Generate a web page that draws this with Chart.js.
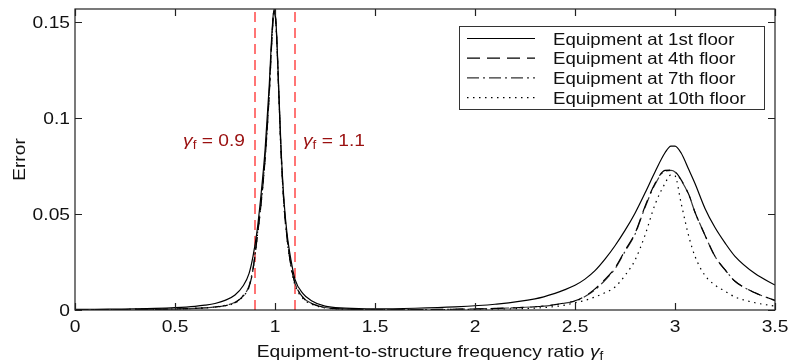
<!DOCTYPE html>
<html>
<head>
<meta charset="utf-8">
<script src="https://cdn.jsdelivr.net/npm/chart.js@4.4.1/dist/chart.umd.min.js"></script>
<style>
  html, body { margin: 0; padding: 0; background: #fff; }
  #wrap { width: 795px; height: 363px; }
</style>
</head>
<body>
<div id="wrap"><canvas id="errorChart" width="795" height="363"></canvas></div>
<script>
// frequency ratio samples (x) and error values
const gammaF = [0, 0.1, 0.2, 0.3, 0.4, 0.5, 0.6, 0.65, 0.7, 0.75, 0.8, 0.84, 0.87, 0.89, 0.91, 0.93, 0.95, 0.97, 0.985, 0.995,
  1.005, 1.02, 1.03, 1.045, 1.06, 1.08, 1.1, 1.14, 1.18, 1.25, 1.35, 1.5, 1.7, 1.9, 2.1, 2.3, 2.4, 2.45, 2.5, 2.55, 2.6, 2.65, 2.7,
  2.75, 2.8, 2.85, 2.9, 2.95, 2.98, 3.0, 3.03, 3.07, 3.1, 3.15, 3.2, 3.25, 3.3, 3.4, 3.5];

const floor1 = [0.0004, 0.0004, 0.0005, 0.0006, 0.0008, 0.0012, 0.0019, 0.0025, 0.0034, 0.005, 0.0078, 0.0125, 0.019, 0.028, 0.041, 0.06, 0.083, 0.115, 0.145, 0.157,
  0.15, 0.112, 0.085, 0.057, 0.04, 0.026, 0.016, 0.0085, 0.005, 0.002, 0.001, 0.0006, 0.0009, 0.0016, 0.003, 0.0058, 0.0087, 0.0106, 0.0129, 0.0161, 0.0205, 0.0265, 0.0335,
  0.0415, 0.0505, 0.061, 0.072, 0.082, 0.0855, 0.0855, 0.082, 0.073, 0.066, 0.053, 0.043, 0.035, 0.028, 0.019, 0.013];

const floor4 = [0.0002, 0.0002, 0.0002, 0.0003, 0.0003, 0.0005, 0.0008, 0.0011, 0.0015, 0.0022, 0.0038, 0.0072, 0.012, 0.021, 0.037, 0.055, 0.078, 0.11, 0.142, 0.156,
  0.149, 0.11, 0.083, 0.055, 0.038, 0.023, 0.014, 0.0065, 0.0035, 0.0013, 0.0005, 0.0002, 0.0002, 0.0004, 0.0008, 0.0017, 0.0028, 0.0037, 0.0048, 0.0072, 0.011, 0.016, 0.022,
  0.031, 0.04, 0.054, 0.066, 0.0728, 0.073, 0.0722, 0.068, 0.06, 0.051, 0.039, 0.028, 0.021, 0.015, 0.009, 0.005];

const floor7 = [0.0002, 0.0002, 0.0002, 0.0003, 0.0003, 0.0005, 0.0008, 0.0011, 0.0016, 0.0024, 0.004, 0.0075, 0.0125, 0.022, 0.038, 0.056, 0.079, 0.111, 0.143, 0.156,
  0.149, 0.11, 0.083, 0.055, 0.038, 0.023, 0.014, 0.0066, 0.0036, 0.0013, 0.0005, 0.0002, 0.0002, 0.0004, 0.0008, 0.0017, 0.0027, 0.0036, 0.0046, 0.007, 0.0105, 0.0155, 0.0215,
  0.0305, 0.0395, 0.0535, 0.0655, 0.0725, 0.0728, 0.072, 0.0678, 0.0598, 0.051, 0.039, 0.028, 0.021, 0.015, 0.009, 0.005];

const floor10 = [0.0002, 0.0002, 0.0002, 0.0003, 0.0003, 0.0005, 0.0008, 0.0011, 0.0015, 0.0022, 0.0037, 0.007, 0.012, 0.021, 0.037, 0.055, 0.078, 0.11, 0.142, 0.156,
  0.149, 0.11, 0.082, 0.054, 0.037, 0.022, 0.013, 0.006, 0.0032, 0.0011, 0.0004, 0.0002, 0.0002, 0.0003, 0.0005, 0.001, 0.0018, 0.0026, 0.0038, 0.005, 0.0068, 0.009, 0.012,
  0.018, 0.026, 0.039, 0.055, 0.066, 0.0705, 0.07, 0.056, 0.038, 0.028, 0.018, 0.013, 0.0098, 0.0068, 0.0038, 0.002];

const seriesNames = ['Equipment at 1st floor', 'Equipment at 4th floor', 'Equipment at 7th floor', 'Equipment at 10th floor'];
const xTicks = [0, 0.5, 1, 1.5, 2, 2.5, 3, 3.5];
const yTicks = [0, 0.05, 0.1, 0.15];
const markerLines = [0.9, 1.1];
const markerLabels = ['0.9', '1.1'];
const markerLabelY = 0.088;
const yMax = 0.157;

const FONT = '"Liberation Sans", Arial, sans-serif';
const SX = 1.13; // the original lettering is a little wider than Liberation Sans
const styles = [
  { color: '#000', dash: [] },
  { color: '#000', dash: [13, 7] },
  { color: '#333', dash: [12, 4, 2, 4] },
  { color: '#000', dash: [1.5, 4.5] }
];

function toPoints(ys) {
  return ys.map((y, i) => ({ x: gammaF[i], y: y }));
}

const datasets = [floor1, floor4, floor7, floor10].map((ys, i) => ({
  label: seriesNames[i],
  data: toPoints(ys),
  borderColor: styles[i].color,
  borderDash: styles[i].dash,
  borderWidth: 1.2,
  pointRadius: 0,
  cubicInterpolationMode: 'monotone',
  fill: false
}));

markerLines.forEach((xv) => {
  datasets.push({
    label: 'marker',
    data: [{ x: xv, y: 0 }, { x: xv, y: yMax }],
    borderColor: 'rgba(255,40,40,0.85)',
    borderDash: [10, 6],
    borderWidth: 1.5,
    pointRadius: 0
  });
});

function wideText(ctx, text, x, y, align, baseline) {
  ctx.save();
  ctx.translate(x, y);
  ctx.scale(SX, 1);
  ctx.textAlign = align;
  ctx.textBaseline = baseline || 'alphabetic';
  ctx.fillText(text, 0, 0);
  ctx.restore();
}

// text made of several pieces (italic gamma with subscript f)
function drawParts(ctx, parts, x, y, align) {
  let total = 0;
  parts.forEach(p => { ctx.font = p.font; total += ctx.measureText(p.t).width * SX; });
  let cx = align === 'center' ? x - total / 2 : (align === 'right' ? x - total : x);
  parts.forEach(p => {
    ctx.font = p.font;
    wideText(ctx, p.t, cx, y + (p.dy || 0), 'left');
    cx += ctx.measureText(p.t).width * SX;
  });
}

function gammaParts(rest, size) {
  return [
    { t: 'γ', font: 'italic ' + size + 'px ' + FONT },
    { t: 'f', font: Math.round(size * 0.68) + 'px ' + FONT, dy: 3 },
    { t: rest, font: size + 'px ' + FONT }
  ];
}

const decorations = {
  id: 'decorations',
  afterDraw(chart) {
    const ctx = chart.ctx;
    const a = chart.chartArea;
    const xs = chart.scales.x, ys = chart.scales.y;
    ctx.save();

    // axes box
    ctx.strokeStyle = '#222';
    ctx.lineWidth = 1.2;
    ctx.setLineDash([]);
    ctx.strokeRect(a.left, a.top, a.right - a.left, a.bottom - a.top);

    // inward ticks on all four sides
    const tl = 7;
    ctx.beginPath();
    xTicks.forEach(v => {
      const px = Math.round(xs.getPixelForValue(v)) + 0.5;
      ctx.moveTo(px, a.bottom); ctx.lineTo(px, a.bottom - tl);
      ctx.moveTo(px, a.top); ctx.lineTo(px, a.top + tl);
    });
    yTicks.forEach(v => {
      const py = Math.round(ys.getPixelForValue(v)) + 0.5;
      ctx.moveTo(a.left, py); ctx.lineTo(a.left + tl, py);
      ctx.moveTo(a.right, py); ctx.lineTo(a.right - tl, py);
    });
    ctx.stroke();

    // tick labels
    ctx.fillStyle = '#111';
    ctx.font = '17px ' + FONT;
    xTicks.forEach(v => wideText(ctx, String(v), xs.getPixelForValue(v), a.bottom + 22, 'center'));
    yTicks.forEach(v => wideText(ctx, String(+v.toFixed(2)), a.left - 5, ys.getPixelForValue(v) + 6, 'right'));

    // marker labels
    ctx.fillStyle = '#9a1010';
    const ly = ys.getPixelForValue(markerLabelY) + 5;
    drawParts(ctx, gammaParts(' = ' + markerLabels[0], 17), xs.getPixelForValue(markerLines[0]) - 10, ly, 'right');
    drawParts(ctx, gammaParts(' = ' + markerLabels[1], 17), xs.getPixelForValue(markerLines[1]) + 8, ly, 'left');

    // axis titles
    ctx.fillStyle = '#111';
    drawParts(ctx, [{ t: 'Equipment-to-structure frequency ratio ', font: '17px ' + FONT }].concat(gammaParts('', 17)),
      (a.left + a.right) / 2 + 5, 357, 'center');
    ctx.save();
    ctx.translate(25, (a.top + a.bottom) / 2);
    ctx.rotate(-Math.PI / 2);
    ctx.font = '17px ' + FONT;
    wideText(ctx, 'Error', 0, 0, 'center');
    ctx.restore();

    // legend
    const bx = 459, by = 26, bw = 305, bh = 83;
    ctx.fillStyle = '#fff';
    ctx.fillRect(bx, by, bw, bh);
    ctx.strokeStyle = '#333';
    ctx.lineWidth = 1;
    ctx.strokeRect(bx + 0.5, by + 0.5, bw, bh);
    seriesNames.forEach((name, i) => {
      const ry = by + 12.5 + i * 19.7;
      ctx.strokeStyle = styles[i].color;
      ctx.lineWidth = 1.2;
      ctx.setLineDash(styles[i].dash);
      ctx.beginPath();
      ctx.moveTo(467, ry); ctx.lineTo(535, ry);
      ctx.stroke();
      ctx.setLineDash([]);
      ctx.fillStyle = '#111';
      ctx.font = '16.5px ' + FONT;
      wideText(ctx, name, 553, ry + 6, 'left');
    });
    ctx.restore();
  }
};

new Chart(document.getElementById('errorChart'), {
  type: 'line',
  data: { datasets: datasets },
  options: {
    responsive: false,
    animation: false,
    layout: { padding: { top: 9, right: 20, left: 0, bottom: 0 } },
    plugins: { legend: { display: false }, tooltip: { enabled: false } },
    scales: {
      x: {
        type: 'linear',
        min: 0,
        max: 3.5,
        afterBuildTicks: (s) => { s.ticks = xTicks.map(v => ({ value: v })); },
        afterFit: (s) => { s.height = 53; },
        grid: { display: false, drawTicks: false },
        border: { display: false },
        ticks: { display: false }
      },
      y: {
        type: 'linear',
        min: 0,
        max: yMax,
        afterBuildTicks: (s) => { s.ticks = yTicks.map(v => ({ value: v })); },
        afterFit: (s) => { s.width = 75; },
        grid: { display: false, drawTicks: false },
        border: { display: false },
        ticks: { display: false }
      }
    }
  },
  plugins: [decorations]
});
</script>
</body>
</html>
